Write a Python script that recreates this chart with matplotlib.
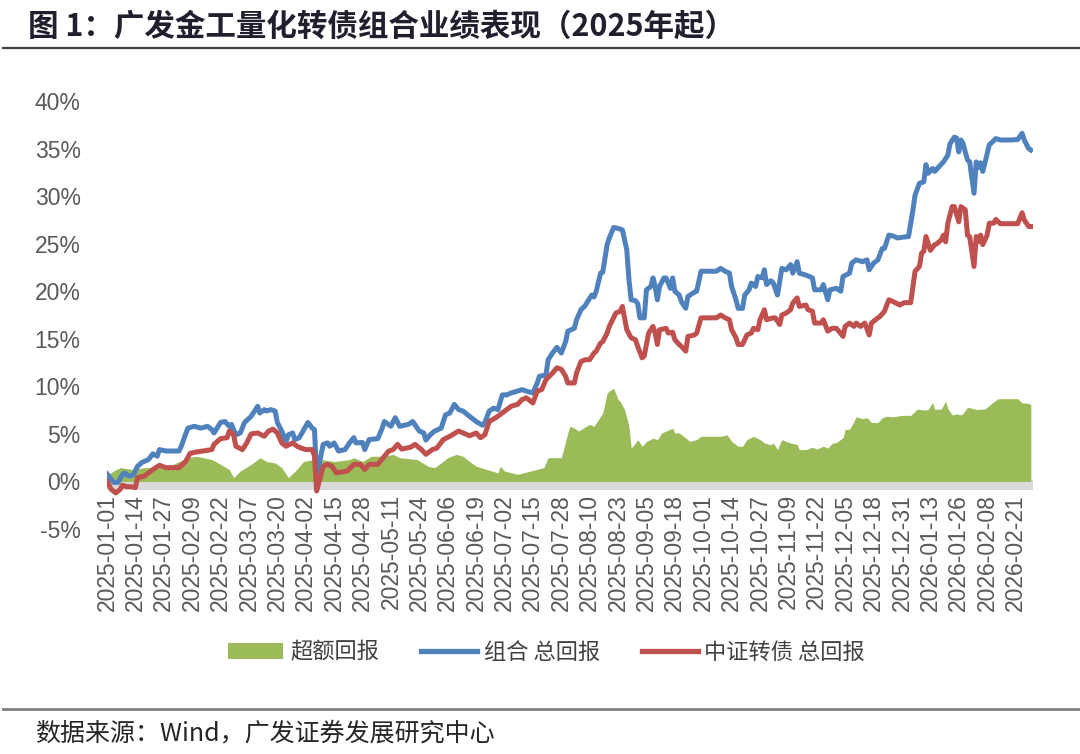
import numpy as np
import pandas as pd
import matplotlib
matplotlib.use('Agg')
import matplotlib.pyplot as plt
from matplotlib.lines import Line2D
from matplotlib.patches import Patch

# days since 2025-01-01, values in %
blue_days = [0, 3, 5, 7, 8, 10, 12, 14, 16, 19, 21, 23, 24, 27, 33, 34, 37, 40, 43, 46, 48, 49, 52, 54, 56, 57,
             59, 61, 63, 66, 67, 69, 70, 72, 73, 75, 77, 78, 80, 82, 83, 85, 86, 88, 91, 92, 94, 95, 96, 99, 101,
             102, 104, 106, 109, 111, 113, 114, 117, 118, 120, 124, 126, 127, 130, 132, 134, 138, 140, 143, 145,
             146, 148, 150, 153, 155, 157, 159, 161, 163, 166, 169, 172, 173, 175, 177, 179, 181, 183, 185, 188,
             190, 192, 195, 197, 198, 201, 202, 204, 206, 208, 210, 211, 214, 215, 217, 219, 220, 222, 223, 224,
             226, 227, 229, 230, 232, 234, 236, 238, 239, 240, 242, 243, 244, 246, 247, 249, 250, 251, 252, 253,
             255, 256, 258, 259, 260, 262, 263, 265, 266, 269, 270, 272, 279, 281, 283, 285, 286, 288, 289, 291,
             292, 294, 295, 297, 298, 300, 301, 302, 304, 305, 307, 309, 311, 313, 314, 316, 317, 320, 323, 324,
             327, 328, 330, 331, 334, 336, 337, 340, 341, 343, 346, 348, 349, 351, 353, 355, 356, 358, 360, 362,
             365, 367, 369, 370, 372, 374, 375, 376, 378, 379, 381, 383, 385, 386, 388, 389, 390, 391, 392, 394,
             395, 397, 398, 399, 400, 401, 402, 404, 405, 407, 409, 414, 417, 419, 420, 422, 423]
blue_vals = [0.8, -0.1, -0.1, 0.7, 0.9, 0.55, 0.7, 1.6, 2.0, 2.3, 2.9, 2.65, 3.35, 3.2, 3.2, 3.7, 5.6, 5.8, 5.6,
             5.8, 5.45, 5.1, 6.2, 6.3, 5.8, 6.0, 4.9, 5.1, 6.2, 6.85, 7.2, 7.9, 7.2, 7.55, 7.4, 7.55, 7.4, 6.2, 5.3,
             4.2, 4.9, 5.1, 4.4, 4.6, 5.8, 6.2, 5.6, 5.45, 0.5, 3.9, 4.05, 3.7, 4.05, 3.2, 3.35, 4.05, 4.6, 4.05,
             4.1, 3.35, 4.4, 4.5, 5.6, 6.3, 5.8, 6.7, 5.8, 6.0, 6.3, 5.3, 5.1, 4.35, 4.9, 5.3, 5.6, 7.0, 7.2, 8.1,
             7.55, 7.4, 6.85, 6.3, 5.9, 6.2, 7.4, 7.7, 7.55, 9.1, 9.1, 9.3, 9.5, 9.65, 9.5, 9.3, 10.35, 11.05, 11.2,
             12.8, 13.5, 14.1, 13.5, 14.7, 15.8, 16.1, 17.0, 18.05, 18.5, 18.9, 19.6, 19.4, 20.0, 21.9, 22.0, 24.9,
             25.6, 26.7, 26.6, 26.45, 24.35, 21.2, 19.1, 19.0, 18.7, 17.2, 17.2, 20.15, 20.5, 21.4, 20.5, 19.1, 20.5,
             21.4, 21.4, 20.3, 21.4, 20.0, 19.6, 18.9, 18.2, 19.45, 19.9, 20.0, 22.1, 22.1, 22.4, 22.1, 21.9, 20.5,
             19.1, 18.2, 18.2, 19.6, 20.15, 20.85, 20.5, 21.55, 21.4, 22.25, 20.7, 21.1, 20.9, 19.6, 22.4, 22.25,
             22.8, 21.9, 23.1, 21.9, 21.7, 21.4, 20.15, 20.15, 20.7, 19.1, 20.15, 20.3, 20.0, 21.55, 21.9, 22.95,
             23.3, 23.1, 23.3, 22.25, 22.95, 23.3, 24.5, 24.5, 25.9, 25.8, 25.6, 25.7, 25.75, 28.5, 30.1, 31.35,
             31.5, 33.3, 32.4, 32.9, 32.6, 33.1, 33.6, 34.3, 35.5, 36.2, 36.1, 34.65, 35.9, 35.5, 33.8, 33.6, 30.3,
             33.6, 33.0, 33.5, 32.6, 33.5, 35.4, 35.6, 36.05, 35.9, 35.9, 35.95, 36.6, 35.9, 35.0, 34.85]

red_days = [0, 2, 4, 6, 7, 9, 11, 13, 14, 17, 19, 21, 24, 27, 33, 36, 38, 41, 44, 48, 49, 52, 55, 56, 58, 59, 62,
            64, 66, 69, 72, 74, 76, 78, 80, 82, 85, 87, 89, 91, 94, 95, 96, 99, 101, 103, 105, 110, 113, 116, 118,
            120, 124, 127, 129, 131, 133, 135, 139, 141, 144, 146, 149, 151, 154, 157, 161, 163, 166, 169, 171, 173,
            175, 178, 181, 183, 185, 188, 190, 192, 195, 197, 199, 201, 204, 206, 208, 210, 211, 214, 215, 217, 219,
            221, 223, 224, 226, 227, 229, 230, 233, 235, 236, 238, 240, 242, 243, 245, 246, 248, 250, 251, 252, 253,
            256, 257, 259, 260, 262, 263, 265, 266, 269, 270, 272, 279, 281, 283, 285, 286, 288, 289, 291, 293, 295,
            296, 298, 299, 301, 302, 305, 306, 308, 309, 311, 313, 314, 316, 317, 320, 321, 323, 324, 327, 328, 330,
            332, 334, 337, 338, 340, 342, 343, 345, 347, 349, 350, 353, 354, 356, 358, 360, 363, 365, 368, 370, 372,
            373, 374, 375, 377, 379, 380, 382, 383, 384, 385, 387, 388, 390, 391, 393, 394, 395, 397, 398, 399, 400,
            401, 403, 404, 406, 407, 409, 417, 419, 420, 422, 423]
red_vals = [0.0, -0.85, -1.2, -0.85, -0.4, -0.55, -0.55, -0.65, 0.4, 0.55, 0.9, 1.25, 1.7, 1.45, 1.45, 2.1, 2.95,
            3.1, 3.2, 3.35, 3.9, 4.5, 4.6, 5.3, 4.9, 3.7, 3.35, 4.05, 5.0, 5.1, 4.75, 5.3, 5.5, 5.1, 4.05, 3.7,
            4.05, 3.7, 3.5, 3.35, 3.35, 2.65, -1.0, 1.6, 1.8, 1.6, 0.9, 1.1, 1.8, 1.8, 1.25, 1.8, 1.8, 2.65, 3.2,
            3.35, 3.9, 3.4, 3.6, 3.9, 3.35, 2.85, 3.35, 3.5, 4.4, 4.75, 5.3, 5.1, 4.8, 5.1, 4.6, 4.9, 6.3, 6.7,
            7.2, 7.55, 7.9, 8.1, 8.6, 8.8, 8.25, 9.5, 9.65, 10.7, 11.4, 11.95, 11.8, 11.05, 10.35, 10.35, 11.4,
            12.6, 12.8, 12.8, 13.5, 13.7, 14.55, 14.7, 15.6, 16.3, 17.7, 17.9, 18.4, 15.95, 15.1, 14.9, 14.2, 13.0,
            13.2, 15.6, 16.3, 15.6, 14.4, 15.95, 16.1, 15.6, 15.7, 14.9, 14.4, 14.2, 13.7, 15.25, 15.4, 15.6, 17.2,
            17.2, 17.5, 17.2, 17.0, 15.95, 15.1, 14.4, 14.4, 15.4, 15.6, 16.1, 15.95, 17.0, 18.05, 17.0, 17.2,
            17.2, 16.5, 17.5, 17.7, 18.05, 18.75, 19.3, 18.4, 18.55, 18.05, 17.9, 16.65, 16.65, 17.0, 15.8, 16.1,
            16.1, 15.25, 16.3, 16.65, 16.3, 16.65, 16.3, 16.65, 15.4, 16.65, 17.2, 17.35, 17.9, 19.1, 18.9, 18.55,
            18.8, 18.8, 22.1, 22.6, 24.0, 24.2, 25.75, 24.3, 24.9, 25.0, 25.4, 25.9, 25.2, 27.15, 28.9, 28.9, 27.3,
            28.9, 28.55, 25.9, 25.75, 22.6, 25.75, 25.2, 25.9, 24.9, 25.9, 27.15, 27.15, 27.55, 27.1, 27.1, 28.25,
            27.5, 26.8, 26.8]

green_days = [0, 1, 3, 6, 12, 17, 27, 37, 41, 48, 52, 56, 58, 61, 66, 69, 70, 73, 77, 80, 83, 86, 90, 95, 98, 104,
              111, 113, 117, 121, 127, 131, 134, 142, 147, 150, 153, 156, 160, 163, 166, 169, 174, 179, 180, 182,
              188, 194, 200, 202, 206, 208, 209, 211, 212, 214, 216, 218, 221, 223, 224, 226, 227, 229, 230, 232,
              234, 235, 237, 239, 240, 242, 243, 245, 247, 250, 252, 254, 256, 259, 260, 262, 265, 267, 270, 272,
              276, 281, 284, 286, 289, 291, 293, 296, 299, 301, 304, 305, 307, 309, 311, 313, 316, 317, 320, 323,
              325, 328, 330, 332, 334, 337, 338, 340, 342, 343, 346, 348, 350, 353, 355, 357, 360, 364, 368, 371,
              374, 376, 378, 379, 382, 384, 385, 387, 389, 391, 392, 394, 396, 398, 400, 402, 405, 408, 413, 417,
              419, 421, 423]
green_vals = [0.3, 0.8, 1.1, 1.45, 1.25, 1.45, 1.45, 2.5, 2.65, 2.3, 1.8, 1.25, 0.4, 1.1, 1.8, 2.3, 2.5, 2.1, 1.95,
              1.45, 0.4, 1.05, 2.1, 2.3, 2.3, 2.1, 2.3, 2.5, 2.1, 2.65, 2.65, 2.85, 2.5, 2.3, 1.6, 1.45, 1.95, 2.5,
              2.85, 2.65, 2.1, 1.6, 1.25, 0.9, 1.6, 1.1, 0.75, 1.1, 1.45, 2.5, 2.5, 2.5, 3.35, 5.1, 5.8, 5.6, 5.3,
              5.6, 6.0, 5.8, 6.15, 6.85, 7.2, 9.3, 9.5, 9.8, 8.6, 8.4, 7.55, 5.8, 3.5, 4.05, 4.4, 3.7, 4.2, 4.55,
              4.4, 5.1, 5.3, 5.6, 5.1, 5.1, 4.55, 4.2, 4.4, 4.75, 4.75, 4.75, 4.9, 4.2, 3.7, 3.7, 4.4, 4.75, 4.4,
              4.05, 3.85, 4.05, 3.35, 4.4, 4.2, 4.05, 3.9, 3.35, 3.35, 3.6, 3.4, 3.7, 3.5, 4.0, 4.1, 4.6, 5.45,
              5.5, 6.3, 6.8, 6.6, 6.7, 6.2, 6.2, 6.7, 6.85, 6.8, 6.95, 6.95, 7.6, 7.5, 7.55, 8.3, 7.6, 7.6, 8.45,
              7.65, 7.0, 7.1, 7.0, 7.15, 7.8, 7.7, 7.55, 7.6, 7.6, 8.2, 8.7, 8.7, 8.7, 8.25, 8.25, 8.1]

start = pd.Timestamp('2025-01-01')
tick_dates = pd.date_range(start, periods=33, freq='13D')
y_ticks = [-5, 0, 5, 10, 15, 20, 25, 30, 35, 40]
legend_labels = ['超额回报', '组合 总回报', '中证转债 总回报']

GREEN = '#9BBB59'
BLUE = '#4F81BD'
RED = '#C0504D'
TICK = '#595959'

bx = start + pd.to_timedelta(blue_days, unit='D')
rx = start + pd.to_timedelta(red_days, unit='D')
gx = start + pd.to_timedelta(green_days, unit='D')

fig = plt.figure(figsize=(10.8, 7.54), dpi=100)
ax = fig.add_axes([107 / 1080, 1 - 529 / 754, 926 / 1080, 428 / 754])

# x axis labels sit on the 0% line, so move the spine first (this resets ticks)
for s in ax.spines.values():
    s.set_visible(False)
ax.spines['bottom'].set_position(('data', 0))

ax.axhspan(-0.85, 0.1, color='#D9D9D9', lw=0, zorder=1)
ax.fill_between(gx, 0, green_vals, color=GREEN, lw=0, zorder=2)
ax.plot(bx, blue_vals, color=BLUE, lw=3.6, zorder=3, solid_joinstyle='round')
ax.plot(rx, red_vals, color=RED, lw=3.6, zorder=4, solid_joinstyle='round')

ax.set_xlim(start, start + pd.Timedelta(days=424))
ax.set_ylim(-5, 40)
ax.set_yticks(y_ticks)
ax.set_yticklabels([f'{v}%' for v in y_ticks])
ax.set_xticks(tick_dates)
ax.set_xticklabels([d.strftime('%Y-%m-%d') for d in tick_dates])

ax.tick_params(axis='y', length=0, pad=19, labelsize=16.5, labelcolor=TICK)
ax.tick_params(axis='x', length=0, pad=9, labelsize=16.5, labelcolor=TICK, labelrotation=90)
for lab in ax.get_xticklabels() + ax.get_yticklabels():
    lab.set_fontfamily('Liberation Sans')

handles = [Patch(facecolor=GREEN, edgecolor='none'),
           Line2D([], [], color=BLUE, lw=3.8),
           Line2D([], [], color=RED, lw=3.8)]
fig.legend(handles, legend_labels, loc='center', bbox_to_anchor=(0.506, 1 - 652 / 754), ncol=3, frameon=False,
           prop={'family': 'Noto Sans CJK SC', 'size': 16}, handlelength=2.5, handleheight=0.7,
           handletextpad=0.3, columnspacing=1.9, labelcolor='#404040')

fig.text(28 / 1080, 1 - 27 / 754, '图 1：广发金工量化转债组合业绩表现（2025年起）', fontsize=22,
         fontweight='bold', family='Noto Sans CJK SC', color='#1F1F2E', va='center', ha='left')
fig.add_artist(Line2D([0.003, 1], [1 - 48 / 754] * 2, color='#404040', lw=1.6))
fig.add_artist(Line2D([0.003, 1], [1 - 709 / 754] * 2, color='#808080', lw=2))
fig.text(35 / 1080, 1 - 733 / 754, '数据来源：Wind，广发证券发展研究中心', fontsize=18,
         family='Noto Sans CJK SC', color='#262626', va='center', ha='left')

fig.savefig('out.png', dpi=100)
